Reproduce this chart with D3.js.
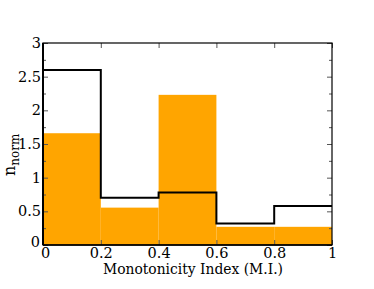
<!DOCTYPE html>
<html><head><meta charset="utf-8">
<script src="https://cdn.jsdelivr.net/npm/d3@7"></script>
<style>body{margin:0;background:#fff}svg{display:block}</style>
</head><body>
<svg id="c" width="374" height="289"></svg>
<script>
const binEdges = [0, 0.2, 0.4, 0.6, 0.8, 1.0];
const barValues = [1.66, 0.555, 2.23, 0.27, 0.27];
const stepValues = [2.6, 0.70, 0.78, 0.32, 0.58];
const xTicks = [0, 0.2, 0.4, 0.6, 0.8, 1];
const yTicks = [0, 0.5, 1, 1.5, 2, 2.5, 3];
const yMinor = [0.25, 0.75, 1.25, 1.75, 2.25, 2.75];

const FAM = "DejaVu Serif";
const svg = d3.select("#c");
const L = 43, R = 332, T = 43, B = 245;
const x = d3.scaleLinear().domain([0, 1]).range([L, R]);
const y = d3.scaleLinear().domain([0, 3]).range([B, T]);

svg.append("g").selectAll("rect").data(barValues).join("rect")
  .attr("x", (d, i) => x(binEdges[i]))
  .attr("width", (d, i) => x(binEdges[i + 1]) - x(binEdges[i]))
  .attr("y", d => y(d))
  .attr("height", d => y(0) - y(d))
  .attr("fill", "#ffa500");

const pts = [];
stepValues.forEach((v, i) => { pts.push([binEdges[i], v]); pts.push([binEdges[i + 1], v]); });
pts.unshift([0, 0]);
svg.append("path")
  .attr("d", d3.line().x(d => x(d[0])).y(d => y(d[1]))(pts))
  .attr("fill", "none").attr("stroke", "#000").attr("stroke-width", 2);

const tc = "#555";
function axis(gen, tx, ty) {
  const g = svg.append("g").attr("transform", `translate(${tx},${ty})`).call(gen);
  g.attr("font-family", FAM).attr("font-size", 14.5);
  g.select(".domain").remove();
  g.selectAll("line").attr("stroke", tc);
  g.selectAll("text").attr("fill", "#000");
  return g;
}
const fmt = d => d === 0 ? "0" : String(d);
const bx = axis(d3.axisBottom(x).tickValues(xTicks).tickSize(-5).tickPadding(3).tickFormat(fmt), 0, B);
bx.selectAll(".tick text").filter(d => d === 0).attr("dx", 2);
axis(d3.axisTop(x).tickValues(xTicks).tickSize(-5).tickFormat(""), 0, T);
const ly = axis(d3.axisLeft(y).tickValues(yTicks).tickSize(-5).tickPadding(2).tickFormat(fmt), L, 0);
ly.selectAll(".tick text").filter(d => d === 0).attr("dy", "0.1em").attr("dx", -1);
axis(d3.axisLeft(y).tickValues(yMinor).tickSize(-3).tickFormat(""), L, 0);
axis(d3.axisRight(y).tickValues(yTicks).tickSize(-5).tickFormat(""), R, 0);
axis(d3.axisRight(y).tickValues(yMinor).tickSize(-3).tickFormat(""), R, 0);

svg.append("rect").attr("x", L).attr("y", T).attr("width", R - L).attr("height", B - T)
  .attr("fill", "none").attr("stroke", "#000").attr("stroke-width", 1.2);
svg.append("line").attr("x1", L).attr("x2", L).attr("y1", T).attr("y2", B).attr("stroke", "#000").attr("stroke-width", 2);
svg.append("line").attr("x1", L).attr("x2", R).attr("y1", B).attr("y2", B).attr("stroke", "#000").attr("stroke-width", 1.5);

svg.append("text").attr("x", 103).attr("y", 274)
  .attr("textLength", 180).attr("lengthAdjust", "spacingAndGlyphs")
  .attr("font-family", FAM).attr("font-size", 15.5).text("Monotonicity Index (M.I.)");
const yl = svg.append("text").attr("transform", "translate(15,176) rotate(-90)")
  .attr("text-anchor", "start").attr("font-family", FAM).attr("font-size", 16);
yl.append("tspan").text("n");
yl.append("tspan").attr("font-size", 12).attr("dy", 4).text("norm");
</script>
</body></html>
